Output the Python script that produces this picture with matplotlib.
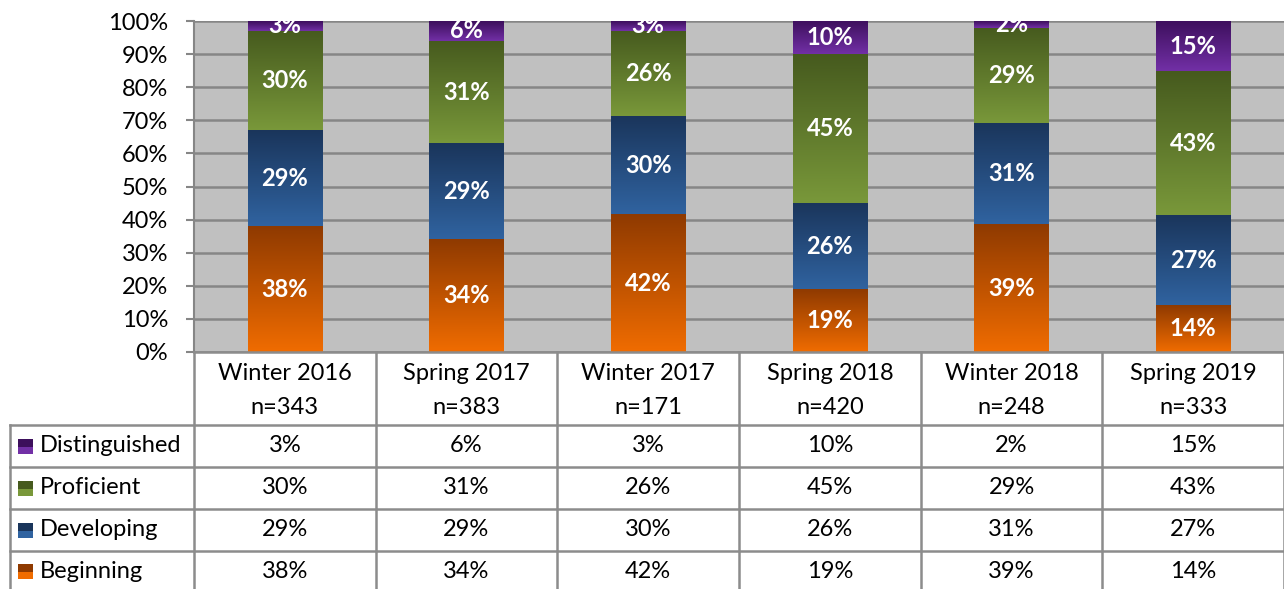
import numpy as np
import matplotlib.pyplot as plt
from matplotlib.patches import Rectangle
from matplotlib.colors import LinearSegmentedColormap
from matplotlib.transforms import blended_transform_factory

plt.rcParams['font.family'] = ['Lato', 'DejaVu Sans']

terms = ['Winter 2016', 'Spring 2017', 'Winter 2017', 'Spring 2018', 'Winter 2018', 'Spring 2019']
counts = ['n=343', 'n=383', 'n=171', 'n=420', 'n=248', 'n=333']

levels = ['Beginning', 'Developing', 'Proficient', 'Distinguished']
beginning = [38, 34, 42, 19, 39, 14]
developing = [29, 29, 30, 26, 31, 27]
proficient = [30, 31, 26, 45, 29, 43]
distinguished = [3, 6, 3, 10, 2, 15]
values = [beginning, developing, proficient, distinguished]

# (top colour, bottom colour) for each level
shades = [('#8f3a00', '#f06c00'),
          ('#1a355b', '#3063a0'),
          ('#465a1e', '#79983a'),
          ('#3d0f5c', '#7230a6')]

FS = 17
W, H = 1284, 589
fig = plt.figure(figsize=(W / 100, H / 100), dpi=100)
fig.patch.set_facecolor('white')

def fy(px):
    return 1 - px / H

ax = fig.add_axes([194 / W, fy(352), 1 - 194 / W, (352 - 21) / H])
ax.set_facecolor('#c0c0c0')
ax.set_yticks(range(0, 101, 10))
ax.set_yticklabels([f'{t}%' for t in range(0, 101, 10)], fontsize=FS)
ax.set_xticks([])
ax.tick_params(axis='y', length=6, width=1.5, color='#868686', pad=12.5)
ax.yaxis.grid(True, color='#868686', lw=1.8)
ax.set_axisbelow(True)
for s in ['top', 'right', 'bottom']:
    ax.spines[s].set_visible(False)
ax.spines['left'].set_color('#868686')
ax.spines['left'].set_linewidth(1.5)

x = np.arange(len(terms))
bw = 0.41
# rounded shares do not always add to 100, so the stack is scaled to a full column
totals = np.sum(values, axis=0)
grad = np.linspace(0, 1, 256).reshape(-1, 1)
bottom = np.zeros(len(terms))
for vals, (c_top, c_bot) in zip(values, shades):
    cmap = LinearSegmentedColormap.from_list('g', [c_top, c_bot])
    h = np.array(vals) * 100 / totals
    for xi, b, hv, v in zip(x, bottom, h, vals):
        ax.imshow(grad, cmap=cmap, aspect='auto', zorder=2,
                  extent=(xi - bw / 2, xi + bw / 2, b, b + hv), origin='upper')
        ax.text(xi, b + hv / 2, f'{v}%', ha='center', va='center', color='white',
                fontsize=FS, fontweight='bold', zorder=3, clip_on=True)
    bottom += h
ax.set_xlim(-0.5, len(terms) - 0.5)
ax.set_ylim(0, 100)

# data table under the chart
tr = blended_transform_factory(ax.transData, fig.transFigure)
line_c = '#8c8c8c'
for i in range(len(terms) + 1):
    fig.add_artist(plt.Line2D([i - 0.5, i - 0.5], [fy(352), fy(589)], transform=tr,
                              color=line_c, lw=1.8))
for ypx in [425, 467, 509, 551]:
    fig.add_artist(plt.Line2D([10 / W, 1], [fy(ypx), fy(ypx)], transform=fig.transFigure,
                              color=line_c, lw=1.8))
fig.add_artist(plt.Line2D([10 / W, 10 / W], [fy(425), fy(589)], transform=fig.transFigure,
                          color=line_c, lw=1.8))
fig.add_artist(plt.Line2D([194 / W, 1], [fy(352), fy(352)], transform=fig.transFigure,
                          color=line_c, lw=1.8))

for xi, t, n in zip(x, terms, counts):
    fig.text(xi, fy(374), t, transform=tr, ha='center', va='center', fontsize=FS)
    fig.text(xi, fy(407), n, transform=tr, ha='center', va='center', fontsize=FS)

row_y = [446, 488, 530, 571]
for ry, lvl, vals, (c_top, c_bot) in zip(row_y, levels[::-1], values[::-1], shades[::-1]):
    fig.add_artist(Rectangle((18 / W, fy(ry + 8)), 15 / W, 15 / H, transform=fig.transFigure,
                             facecolor=c_top, edgecolor='none'))
    fig.add_artist(Rectangle((18 / W, fy(ry + 8)), 15 / W, 7 / H, transform=fig.transFigure,
                             facecolor=c_bot, edgecolor='none'))
    fig.text(40 / W, fy(ry), lvl, ha='left', va='center', fontsize=FS)
    for xi, v in zip(x, vals):
        fig.text(xi, fy(ry), f'{v}%', transform=tr, ha='center', va='center', fontsize=FS)

fig.savefig('out.png', dpi=100)
